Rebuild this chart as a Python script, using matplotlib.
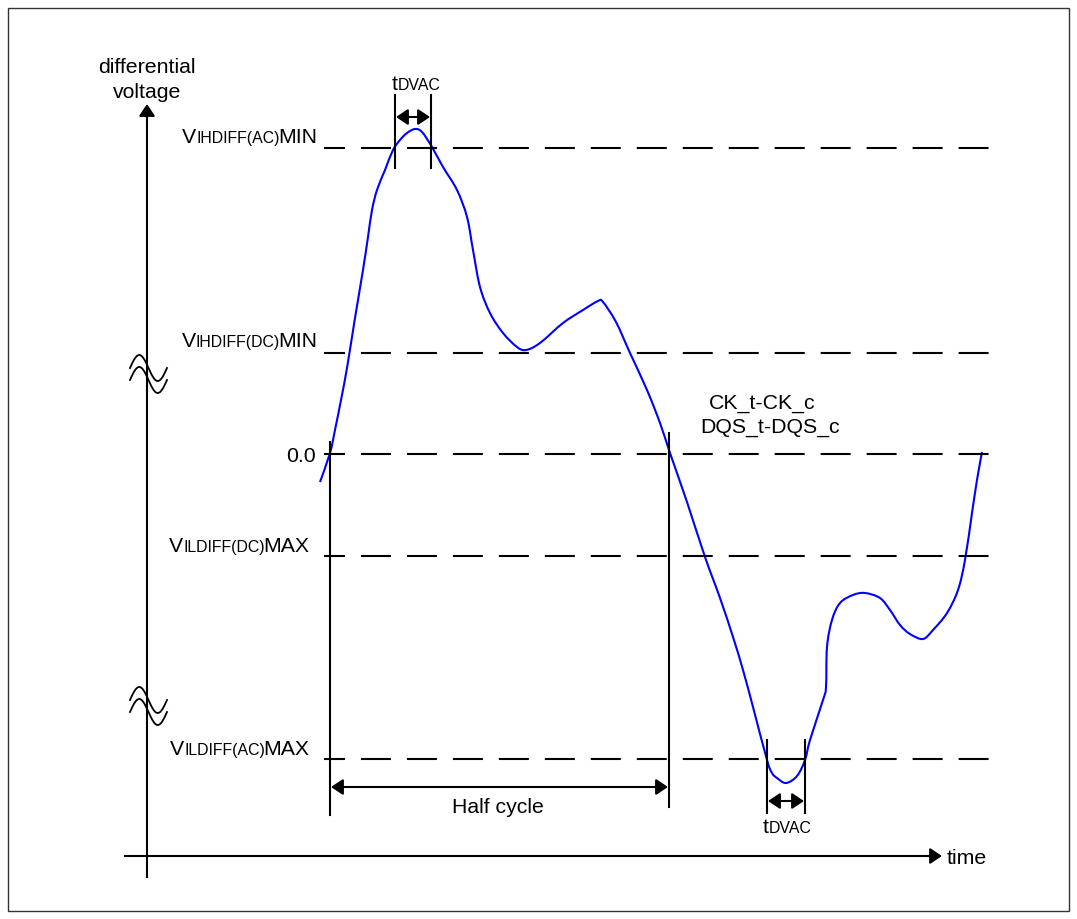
import numpy as np
import matplotlib
matplotlib.use("Agg")
import matplotlib.pyplot as plt
from matplotlib.patches import Rectangle, PathPatch
from matplotlib.path import Path

plt.rcParams['font.family'] = ['Liberation Sans', 'DejaVu Sans']
plt.rcParams['lines.scale_dashes'] = False

# ---- data (time in px-like units, voltage relative to 0.0 level) ----
curve_time = [320, 330, 335, 341, 347, 355, 363, 368, 372, 377, 385, 393, 400, 407, 415, 422, 432,
              443, 457, 467, 473, 480, 490, 503, 517, 526, 540, 563, 583, 598, 603, 616,
              630, 647, 660, 670, 687, 705, 720, 733, 743, 753, 767, 772, 777, 786, 797,
              805, 810, 823, 826, 827, 832, 840, 853, 865, 880, 890, 900, 910, 923, 933,
              947, 958, 965, 972, 977, 982]
curve_px = [482, 453, 430, 400, 368, 318, 270, 237, 210, 190, 170, 150, 140, 133, 129, 132, 147,
            167, 190, 217, 250, 287, 313, 333, 347, 350, 343, 323, 310, 301, 302, 322,
            353, 390, 423, 453, 502, 557, 598, 637, 670, 707, 760, 773, 778, 783, 776,
            760, 740, 700, 687, 647, 620, 603, 595, 593, 598, 610, 625, 634, 639, 630,
            613, 590, 560, 513, 480, 452]
ZERO = 454
curve_volt = [ZERO - p for p in curve_px]

BIG, SMALL = 15.3, 11.4
level_values = [306, 101, 0, -102, -305]
level_labels = [
    [("V", BIG), ("IHDIFF(AC)", SMALL), ("MIN", BIG)],
    [("V", BIG), ("IHDIFF(DC)", SMALL), ("MIN", BIG)],
    [("0.0", BIG)],
    [("V", BIG), ("ILDIFF(DC)", SMALL), ("MAX", BIG)],
    [("V", BIG), ("ILDIFF(AC)", SMALL), ("MAX", BIG)],
]
signal_names = ["CK_t-CK_c", "DQS_t-DQS_c"]

W, H = 1077, 919
fig = plt.figure(figsize=(W / 100, H / 100), dpi=100)
ax = fig.add_axes([0, 0, 1, 1])
ax.set_xlim(0, W)
ax.set_ylim(ZERO - H, ZERO)
ax.axis('off')

def Y(py):
    return ZERO - py

# border
ax.add_patch(Rectangle((8, Y(911)), 1061, 903, fill=False, lw=1.0, ec='#333333'))

renderer = fig.canvas.get_renderer()

def mixed_text(x, y, parts, align='right'):
    arts, widths = [], []
    for i, (s, size) in enumerate(parts):
        t = ax.text(0, y, s, fontsize=size, ha='left', va='baseline', color='black')
        arts.append(t)
        w = t.get_window_extent(renderer).width
        if s.endswith(')'):
            w -= 2
        widths.append(w)
    total = sum(widths)
    x0 = x - total if align == 'right' else (x - total / 2 if align == 'center' else x)
    for t, w in zip(arts, widths):
        t.set_x(x0)
        x0 += w

# dashed level lines
for v in level_values:
    ax.plot([324, 990], [v, v], color='black', lw=1.5,
            linestyle=(6.5, (21.6, 11.5)), dash_capstyle='butt')

# labels
label_right = [317, 317, 316, 309, 309]
label_base = [143, 347, None, 552, 755]
for lab, v, xr, b in zip(level_labels, level_values, label_right, label_base):
    if b is None:
        ax.text(xr, v, lab[0][0], fontsize=lab[0][1], ha='right', va='center_baseline')
    else:
        mixed_text(xr, Y(b), lab, align='right')

# blue waveform as a smooth Bezier path through the read points
P = np.column_stack([curve_time, curve_volt]).astype(float)
verts = [P[0]]
codes = [Path.MOVETO]
for i in range(len(P) - 1):
    p0 = P[i - 1] if i > 0 else P[i]
    p1, p2 = P[i], P[i + 1]
    p3 = P[i + 2] if i + 2 < len(P) else P[i + 1]
    c1 = p1 + (p2 - p0) / 6.0
    c2 = p2 - (p3 - p1) / 6.0
    verts += [c1, c2, p2]
    codes += [Path.CURVE4] * 3
ax.add_patch(PathPatch(Path(verts, codes), fill=False, ec='#0000ff', lw=1.5, joinstyle='round'))

arrow_kw = dict(color='black', lw=1.5, shrinkA=0, shrinkB=0, mutation_scale=12)
HEAD = 'head_length=0.6,head_width=0.4'

# y axis
ax.plot([147, 147], [Y(877), Y(112)], color='black', lw=1.5)
ax.annotate('', xy=(147, Y(104)), xytext=(147, Y(120)),
            arrowprops=dict(arrowstyle='-|>,' + HEAD, **arrow_kw))
ax.text(147, Y(73), "differential", fontsize=BIG, ha='center', va='baseline')
ax.text(147, Y(98), "voltage", fontsize=BIG, ha='center', va='baseline')

# time axis
ax.plot([125, 932], [Y(856), Y(856)], color='black', lw=1.5)
ax.annotate('', xy=(942, Y(856)), xytext=(926, Y(856)),
            arrowprops=dict(arrowstyle='-|>,' + HEAD, **arrow_kw))
ax.text(947, Y(856), "time", fontsize=BIG, ha='left', va='center_baseline')

# axis break squiggles
def squiggle(cy):
    xs = np.linspace(130, 167, 60)
    for off in (0, 12):
        ys = cy + off - 13 * np.sin(2 * np.pi * (xs - 130) / 37)
        ax.plot(xs, Y(ys), color='black', lw=1.3)

squiggle(368)
squiggle(700)

# half-cycle markers
ax.plot([330, 330], [Y(442), Y(815)], color='black', lw=1.5)
ax.plot([669, 669], [Y(433), Y(807)], color='black', lw=1.5)
ax.annotate('', xy=(331, Y(787)), xytext=(668, Y(787)),
            arrowprops=dict(arrowstyle='<|-|>,' + HEAD, **arrow_kw))
ax.text(498, Y(813), "Half cycle", fontsize=BIG, ha='center', va='baseline')

# tDVAC top
for xv in (395, 431):
    ax.plot([xv, xv], [Y(95), Y(168)], color='black', lw=1.5)
ax.annotate('', xy=(396, Y(117)), xytext=(430, Y(117)),
            arrowprops=dict(arrowstyle='<|-|>,' + HEAD, **arrow_kw))
mixed_text(416, Y(90), [("t", BIG), ("DVAC", SMALL)], align='center')

# tDVAC bottom
for xv in (767, 805):
    ax.plot([xv, xv], [Y(740), Y(813)], color='black', lw=1.5)
ax.annotate('', xy=(768, Y(801)), xytext=(804, Y(801)),
            arrowprops=dict(arrowstyle='<|-|>,' + HEAD, **arrow_kw))
mixed_text(787, Y(833), [("t", BIG), ("DVAC", SMALL)], align='center')

# signal names
ax.text(762, Y(401), signal_names[0], fontsize=BIG, ha='center', va='center_baseline')
ax.text(770, Y(425), signal_names[1], fontsize=BIG, ha='center', va='center_baseline')

fig.savefig("out.png", dpi=100)
